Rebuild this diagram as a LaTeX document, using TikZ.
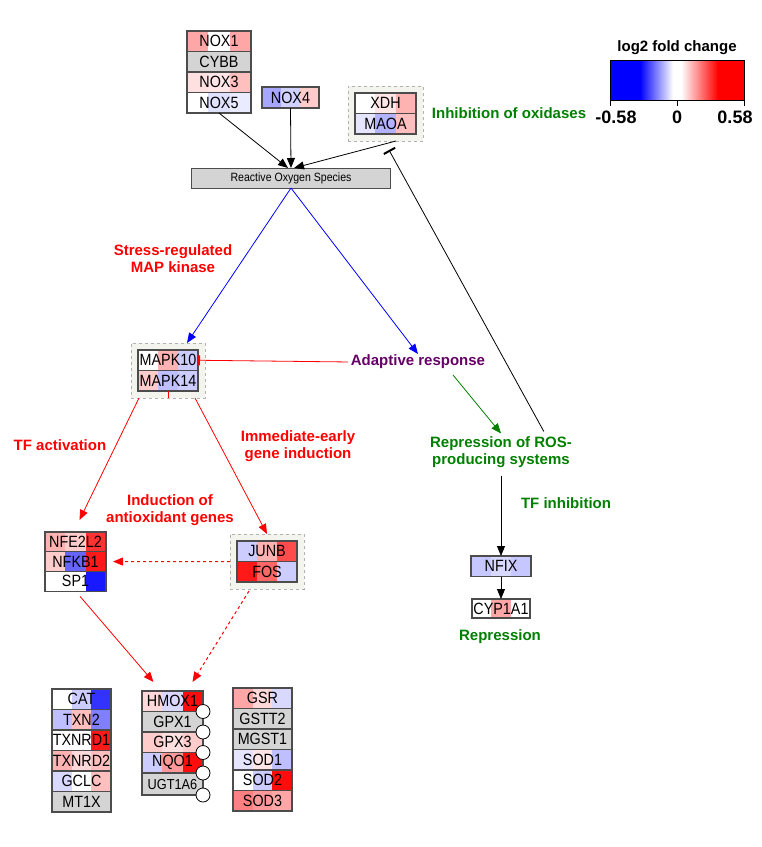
\documentclass[tikz,border=0pt]{standalone}
\usepackage{fontspec}
\setmainfont{Liberation Sans}
\newfontfamily\genefont{Liberation Sans}[FakeStretch=0.88]
\usetikzlibrary{positioning,calc,fit,arrows.meta,backgrounds}

\definecolor{lgreen}{RGB}{0,128,0}
\definecolor{lpurple}{RGB}{102,0,102}
\definecolor{grpfill}{RGB}{244,244,238}
\definecolor{genegray}{RGB}{212,212,212}

\begin{document}
\begin{tikzpicture}[x=1pt,y=-1pt,
  every node/.style={inner sep=0pt,outer sep=0pt},
  genebox/.style={draw=black!70,line width=1.1pt,minimum height=20.5pt,font=\genefont\fontsize{16.3}{16.3}\selectfont},
  ggene/.style={genebox,fill=genegray,minimum width=#1},
  gene/.style n args={4}{genebox,minimum width=#1,
    path picture={
      \fill[#2] let \p1=(path picture bounding box.south west),\p2=(path picture bounding box.north east)
        in (\x1,\y1) rectangle ({\x1+(\x2-\x1)/3},\y2);
      \fill[#3] let \p1=(path picture bounding box.south west),\p2=(path picture bounding box.north east)
        in ({\x1+(\x2-\x1)/3},\y1) rectangle ({\x1+2*(\x2-\x1)/3},\y2);
      \fill[#4] let \p1=(path picture bounding box.south west),\p2=(path picture bounding box.north east)
        in ({\x1+2*(\x2-\x1)/3},\y1) rectangle (\x2,\y2);}},
  grp/.style={draw=black!30,dashed,line width=1pt,fill=grpfill,inner sep=7pt},
  lbl/.style={font=\bfseries\fontsize{15}{17}\selectfont,align=center},
  arr/.style={-{Triangle[length=10pt,width=8pt]},line width=0.8pt},
  inh/.style={-{Bar[width=13pt,line width=2pt]},line width=0.8pt},
  circ/.style={circle,draw,line width=0.8pt,fill=white,minimum size=14pt}]
\useasboundingbox (0,0) rectangle (762,847);

% legend
\node[font=\bfseries\fontsize{15}{15}\selectfont] (legtitle) at (677,48) {log2 fold change};
\fill[blue] (610,60) rectangle (640,100);
\shade[left color=blue,right color=white] (640,60) rectangle (673,100);
\fill[white] (673,60) rectangle (681,100);
\shade[left color=white,right color=red] (681,60) rectangle (718,100);
\fill[red] (718,60) rectangle (744,100);
\draw[line width=1pt] (610,60) rectangle (744,100);
\foreach \x in {610,677,744} \draw[line width=0.8pt] (\x,100) -- (\x,106);
\node[font=\bfseries\fontsize{18}{18}\selectfont] (legmin) at (616,117) {-0.58};
\node[font=\bfseries\fontsize{18}{18}\selectfont] (legzero) at (677,117) {0};
\node[font=\bfseries\fontsize{18}{18}\selectfont] (legmax) at (735,117) {0.58};

% oxidases
\node[gene={64pt}{red!35}{white}{red!35},anchor=north west] (nox1) at (187,31) {NOX1};
\node[ggene=64pt,below=0pt of nox1] (cybb) {CYBB};
\node[gene={64pt}{red!12}{red!10}{red!25},below=0pt of cybb] (nox3) {NOX3};
\node[gene={64pt}{white}{blue!12}{blue!8},below=0pt of nox3] (nox5) {NOX5};
\node[gene={57pt}{blue!35}{blue!18}{red!20},anchor=north west,minimum height=21pt] (nox4) at (262,87) {NOX4};
\node[gene={61pt}{white}{red!10}{red!30},anchor=north west] (xdh) at (355,93) {XDH};
\node[gene={61pt}{blue!10}{blue!30}{red!25},below=0pt of xdh] (maoa) {MAOA};
\node[draw=black!70,line width=1pt,fill=genegray,minimum width=199pt,minimum height=20pt,
  font=\genefont\fontsize{12}{12}\selectfont] (ros) at (291,178) {Reactive Oxygen Species};
\node[lbl,text=lgreen] (inhox) at (509,113) {Inhibition of oxidases};

% MAP kinases
\node[gene={60pt}{white}{red!30}{blue!20},anchor=north west] (mapk10) at (138,350) {MAPK10};
\node[gene={60pt}{red!20}{blue!25}{blue!20},below=0pt of mapk10] (mapk14) {MAPK14};
\node[lbl,text=red] (stress) at (173,259) {Stress-regulated\\MAP kinase};
\node[lbl,text=lpurple] (adapt) at (418,362) {Adaptive response};
\node[lbl,text=lgreen] (rep) at (501,452) {Repression of ROS-\\producing systems};
\node[lbl,text=red] (tfact) at (60,445) {TF activation};
\node[lbl,text=red] (immed) at (298,446) {Immediate-early\\gene induction};
\node[lbl,text=red] (induct) at (170,510) {Induction of\\antioxidant genes};
\node[lbl,text=lgreen] (tfinh) at (566,503) {TF inhibition};

% transcription factors
\node[gene={61pt}{red!30}{red!20}{red!80},anchor=north west,minimum height=19.7pt] (nfe) at (45,532) {NFE2L2};
\node[gene={61pt}{red!20}{blue!60}{red!90},below=0pt of nfe,minimum height=19.7pt] (nfkb1) {NFKB1};
\node[gene={61pt}{white}{white}{blue!90},below=0pt of nfkb1,minimum height=19.7pt] (sp1) {SP1};
\node[gene={60pt}{blue!20}{red!30}{red!70},anchor=north west] (junb) at (237,541) {JUNB};
\node[gene={60pt}{red!90}{red!60}{blue!20},below=0pt of junb] (fos) {FOS};
\node[gene={60pt}{blue!22}{blue!15}{blue!22},anchor=north west] (nfix) at (471,556) {NFIX};
\node[gene={58pt}{white}{red!35}{white},anchor=north west,minimum height=19pt] (cyp) at (472,599) {CYP1A1};
\node[lbl,text=lgreen] (repr) at (500,637) {Repression};

% antioxidant genes
\node[gene={59pt}{white}{blue!20}{blue!80},anchor=north west] (cat) at (52,689) {CAT};
\node[gene={59pt}{blue!25}{red!25}{blue!50},below=0pt of cat] (txn2) {TXN2};
\node[gene={59pt}{white}{white}{red!90},below=0pt of txn2] (txnrd1) {TXNRD1};
\node[gene={59pt}{red!30}{red!15}{red!25},below=0pt of txnrd1] (txnrd2) {TXNRD2};
\node[gene={59pt}{blue!15}{white}{red!25},below=0pt of txnrd2] (gclc) {GCLC};
\node[ggene=59pt,below=0pt of gclc] (mt1x) {MT1X};

\node[gene={61pt}{red!15}{blue!15}{red!95},anchor=north west] (hmox1) at (142,691) {HMOX1};
\node[ggene=61pt,below=0pt of hmox1] (gpx1) {GPX1};
\node[gene={61pt}{red!20}{red!12}{red!20},below=0pt of gpx1] (gpx3) {GPX3};
\node[gene={61pt}{blue!20}{red!40}{red!95},below=0pt of gpx3] (nqo1) {NQO1};
\node[ggene=61pt,below=0pt of nqo1,minimum height=22pt,font=\genefont\fontsize{14.5}{14.5}\selectfont] (ugt) {UGT1A6};
\node[circ] (c1) at (hmox1.south east) {};
\node[circ] (c2) at (gpx1.south east) {};
\node[circ] (c3) at (gpx3.south east) {};
\node[circ] (c4) at (nqo1.south east) {};
\node[circ] (c5) at (ugt.south east) {};

\node[gene={59pt}{red!35}{red!15}{blue!15},anchor=north west] (gsr) at (233,688) {GSR};
\node[ggene=59pt,below=0pt of gsr] (gstt2) {GSTT2};
\node[ggene=59pt,below=0pt of gstt2] (mgst1) {MGST1};
\node[gene={59pt}{blue!10}{red!10}{blue!25},below=0pt of mgst1] (sod1) {SOD1};
\node[gene={59pt}{white}{blue!20}{red!95},below=0pt of sod1] (sod2) {SOD2};
\node[gene={59pt}{red!50}{red!40}{red!35},below=0pt of sod2] (sod3) {SOD3};

\begin{scope}[on background layer]
  \node[grp,fit=(xdh)(maoa)] (xdhgrp) {};
  \node[grp,fit=(mapk10)(mapk14)] (mapkgrp) {};
  \node[grp,fit=(junb)(fos)] (jungrp) {};
\end{scope}

\draw[arr] (nox5.south) -- ([xshift=-3pt]ros.north);
\draw[arr] (nox4.south) -- (ros.north);
\draw[arr] ([xshift=-27pt]xdhgrp.south east) -- ([xshift=3pt]ros.north);
\draw[inh] ([xshift=-28pt,yshift=5pt]rep.north east) -- ([xshift=-34pt,yshift=-9pt]xdhgrp.south east);
\draw[arr,blue] (ros.south) -- ([xshift=19pt]mapkgrp.north);
\draw[arr,blue] (ros.south) -- ([yshift=1pt]adapt.north);
\draw[arr,lgreen] ([xshift=35pt,yshift=-6pt]adapt.south) -- ([yshift=3pt]rep.north);
\draw[-{Bar[width=10pt,line width=2pt]},red,line width=0.8pt,shorten <=3pt] (adapt.west) -- (mapk10.east);
\draw[red,line width=0.8pt] (mapk14.south) -- (mapkgrp.south);
\draw[arr,red] ([xshift=-29pt]mapkgrp.south) -- ([xshift=4pt,yshift=12pt]nfe.north);
\draw[arr,red] ([xshift=27pt]mapkgrp.south) -- (jungrp.north);
\draw[arr,red,dashed,line width=1pt,shorten >=7pt] (jungrp.west) -- (nfkb1.east);
\draw[arr,red,shorten <=7pt] (sp1.south) -- ([xshift=-19pt,yshift=9pt]hmox1.north);
\draw[arr,red,dashed,line width=1pt] ([xshift=-18pt,yshift=-2pt]jungrp.south) -- ([xshift=20pt,yshift=9pt]hmox1.north);
\draw[arr,shorten <=8pt] (rep.south) -- (nfix.north);
\draw[arr] (nfix.south) -- (cyp.north);
\end{tikzpicture}
\end{document}
